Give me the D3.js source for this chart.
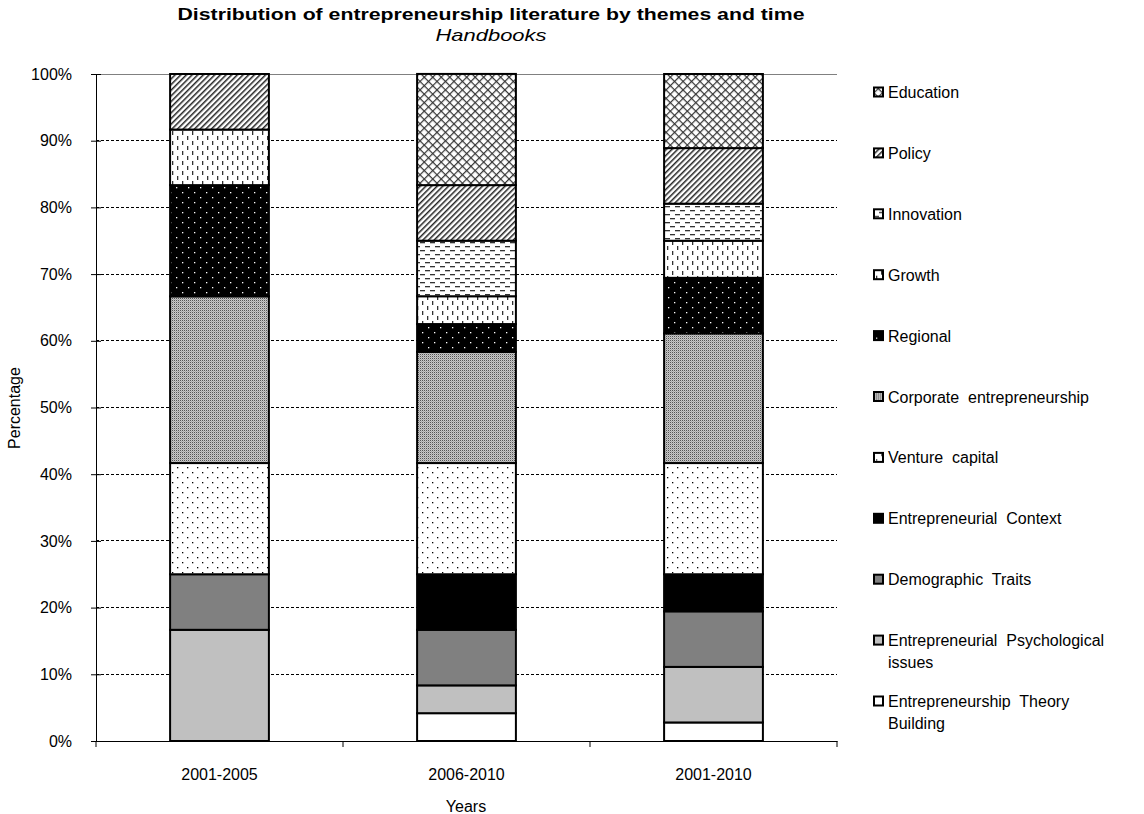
<!DOCTYPE html>
<html>
<head>
<meta charset="utf-8">
<script src="https://cdn.jsdelivr.net/npm/d3@7"></script>
<style>
  body { margin: 0; background: #fff; }
  text { font-family: "Liberation Sans", Arial, sans-serif; fill: #000; }
</style>
</head>
<body>
<svg id="chart" width="1144" height="814"></svg>
<script>
// Periods on the x axis
var periods = ["2001-2005", "2006-2010", "2001-2010"];
// Themes, bottom of the stack first
var themes = ["Entrepreneurship Theory Building", "Entrepreneurial Psychological issues",
	"Demographic Traits", "Entrepreneurial Context", "Venture capital",
	"Corporate entrepreneurship", "Regional", "Growth", "Innovation", "Policy", "Education"];
// Share of each theme (%), one value per period
var theoryBuilding = [0, 4.17, 2.78];
var psychological = [16.67, 4.17, 8.33];
var demographic = [8.33, 8.33, 8.33];
var context = [0, 8.33, 5.56];
var ventureCapital = [16.67, 16.67, 16.67];
var corporate = [25, 16.67, 19.44];
var regional = [16.67, 4.17, 8.33];
var growth = [8.33, 4.17, 5.56];
var innovation = [0, 8.33, 5.56];
var policy = [8.33, 8.33, 8.33];
var education = [0, 16.67, 11.11];
var yTicks = [0, 10, 20, 30, 40, 50, 60, 70, 80, 90, 100];

var seriesValues = [theoryBuilding, psychological, demographic, context, ventureCapital,
	corporate, regional, growth, innovation, policy, education];

// fill used for each theme
var fills = ["#ffffff", "#c0c0c0", "#808080", "#000000", "url(#pVenture)",
	"url(#pCorporate)", "url(#pRegional)", "url(#pGrowth)", "url(#pInnovation)",
	"url(#pPolicy)", "url(#pEducation)"];

const svg = d3.select("#chart");
const margin = {left: 96, right: 307, top: 74, bottom: 73};
const W = 1144, H = 814;

function makePatterns() {
	let defs = svg.append("defs");
	// Venture capital: sparse black dots on white
	let p = defs.append("pattern").attr("id", "pVenture").attr("patternUnits", "userSpaceOnUse")
		.attr("width", 10).attr("height", 10);
	p.append("rect").attr("width", 10).attr("height", 10).attr("fill", "#fff");
	p.append("rect").attr("x", 2).attr("y", 2).attr("width", 1.3).attr("height", 1.3).attr("fill", "#000");
	p.append("rect").attr("x", 7).attr("y", 7).attr("width", 1.3).attr("height", 1.3).attr("fill", "#000");

	// Corporate: fine grey dots
	p = defs.append("pattern").attr("id", "pCorporate").attr("patternUnits", "userSpaceOnUse")
		.attr("width", 2).attr("height", 2);
	p.append("rect").attr("width", 2).attr("height", 2).attr("fill", "#c8c8c8");
	p.append("rect").attr("width", 1).attr("height", 1).attr("fill", "#555");
	p.append("rect").attr("x", 1).attr("y", 1).attr("width", 1).attr("height", 1).attr("fill", "#a8a8a8");

	// Regional: white dots on black
	p = defs.append("pattern").attr("id", "pRegional").attr("patternUnits", "userSpaceOnUse")
		.attr("width", 12).attr("height", 10);
	p.append("rect").attr("width", 12).attr("height", 10).attr("fill", "#000");
	p.append("rect").attr("x", 2).attr("y", 2).attr("width", 1.3).attr("height", 1.3).attr("fill", "#fff");
	p.append("rect").attr("x", 8).attr("y", 7).attr("width", 1.3).attr("height", 1.3).attr("fill", "#fff");

	// Growth: short vertical dashes
	p = defs.append("pattern").attr("id", "pGrowth").attr("patternUnits", "userSpaceOnUse")
		.attr("width", 10).attr("height", 10);
	p.append("rect").attr("width", 10).attr("height", 10).attr("fill", "#fff");
	p.append("rect").attr("x", 2).attr("y", 1).attr("width", 1.3).attr("height", 4).attr("fill", "#333");
	p.append("rect").attr("x", 7).attr("y", 6).attr("width", 1.3).attr("height", 4).attr("fill", "#333");

	// Innovation: short horizontal dashes
	p = defs.append("pattern").attr("id", "pInnovation").attr("patternUnits", "userSpaceOnUse")
		.attr("width", 10).attr("height", 8);
	p.append("rect").attr("width", 10).attr("height", 8).attr("fill", "#fff");
	p.append("rect").attr("x", 0).attr("y", 2).attr("width", 5).attr("height", 1.3).attr("fill", "#333");
	p.append("rect").attr("x", 5).attr("y", 6).attr("width", 5).attr("height", 1.3).attr("fill", "#333");

	// Policy: dense diagonal hatch
	p = defs.append("pattern").attr("id", "pPolicy").attr("patternUnits", "userSpaceOnUse")
		.attr("width", 4).attr("height", 4).attr("patternTransform", "rotate(45)");
	p.append("rect").attr("width", 4).attr("height", 4).attr("fill", "#fff");
	p.append("rect").attr("width", 1.5).attr("height", 4).attr("fill", "#222");

	// Education: diagonal crosshatch
	p = defs.append("pattern").attr("id", "pEducation").attr("patternUnits", "userSpaceOnUse")
		.attr("width", 6).attr("height", 6).attr("patternTransform", "rotate(45)");
	p.append("rect").attr("width", 6).attr("height", 6).attr("fill", "#fff");
	p.append("rect").attr("width", 1.2).attr("height", 6).attr("fill", "#333");
	p.append("rect").attr("width", 6).attr("height", 1.2).attr("fill", "#333");
}

function drawChart() {
	makePatterns();

	const x = d3.scaleBand().domain(periods).range([margin.left, W - margin.right])
		.paddingInner(0.6).paddingOuter(0.3);
	const xGroup = d3.scaleBand().domain(periods).range([margin.left, W - margin.right]);
	const y = d3.scaleLinear().domain([0, 100]).range([H - margin.bottom, margin.top]);

	// rows for the stack
	let rows = periods.map((p, i) => {
		let r = {period: p};
		themes.forEach((t, k) => r[t] = seriesValues[k][i]);
		return r;
	});
	let stacked = d3.stack().keys(themes)(rows);

	// Gridlines
	svg.append("g").selectAll("line")
		.data(yTicks.slice(1))
		.join("line")
		.attr("x1", margin.left).attr("x2", W - margin.right)
		.attr("y1", d => y(d)).attr("y2", d => y(d))
		.attr("stroke-width", 1)
		.attr("stroke-dasharray", d => d == 100 ? null : "3,2")
		.attr("stroke", d => d == 100 ? "#808080" : "#000")
		.attr("shape-rendering", "crispEdges");

	// Bars
	let layers = svg.append("g").selectAll("g.layer")
		.data(stacked)
		.join("g")
		.classed("layer", true)
		.attr("fill", (d, i) => fills[i]);
	layers.selectAll("rect")
		.data(d => d.filter(s => s[1] - s[0] > 0))
		.join("rect")
		.attr("x", d => x(d.data.period))
		.attr("width", x.bandwidth())
		.attr("y", d => y(d[1]))
		.attr("height", d => y(d[0]) - y(d[1]))
		.attr("stroke", "#000").attr("stroke-width", 2);

	// Y axis
	let yAxis = svg.append("g")
		.attr("transform", `translate(${margin.left},0)`)
		.call(d3.axisLeft(y).tickValues(yTicks).tickFormat(d => d + "%").tickSize(5));
	yAxis.select(".domain").attr("stroke", "#000");
	yAxis.selectAll(".tick line").attr("x1", 5).attr("x2", -5).attr("stroke", "#000");
	yAxis.selectAll(".tick text").attr("x", -24).attr("font-size", 16)
		.attr("font-family", "Liberation Sans, Arial, sans-serif").attr("fill", "#000");

	// X axis
	let xAxis = svg.append("g")
		.attr("transform", `translate(0,${H - margin.bottom})`)
		.call(d3.axisBottom(xGroup).tickSize(0).tickPadding(28));
	xAxis.select(".domain").attr("stroke", "#000");
	xAxis.selectAll(".tick text").attr("font-size", 16)
		.attr("font-family", "Liberation Sans, Arial, sans-serif").attr("fill", "#000");
	// category separators
	let seps = periods.map(p => xGroup(p)).concat([W - margin.right]);
	xAxis.selectAll("line.sep").data(seps).join("line").classed("sep", true)
		.attr("x1", d => d).attr("x2", d => d).attr("y1", 0).attr("y2", 6)
		.attr("stroke", "#000");

	// Titles
	svg.append("text").attr("x", 491).attr("y", 20).attr("text-anchor", "middle")
		.attr("font-size", 17).attr("font-weight", "bold")
		.attr("textLength", 627).attr("lengthAdjust", "spacingAndGlyphs")
		.text("Distribution of entrepreneurship literature by themes and time");
	svg.append("text").attr("x", 491).attr("y", 41).attr("text-anchor", "middle")
		.attr("font-size", 17).attr("font-style", "italic")
		.attr("textLength", 111).attr("lengthAdjust", "spacingAndGlyphs")
		.text("Handbooks");
	svg.append("text").attr("transform", "translate(20,408) rotate(-90)")
		.attr("text-anchor", "middle").attr("font-size", 16).text("Percentage");
	svg.append("text").attr("x", 466).attr("y", 812).attr("text-anchor", "middle")
		.attr("font-size", 16).text("Years");

	// Legend, top item is the last theme
	const legendThemes = themes.slice().reverse();
	const lg = svg.append("g").selectAll("g")
		.data(legendThemes)
		.join("g")
		.attr("transform", (d, i) => `translate(874,${92 + i * 60.9})`);
	lg.append("rect")
		.attr("x", 0).attr("y", -4.5).attr("width", 9).attr("height", 9)
		.attr("fill", d => fills[themes.indexOf(d)])
		.attr("stroke", "#000").attr("stroke-width", 2);
	let legendLines = {
		"Entrepreneurial Psychological issues": ["Entrepreneurial  Psychological", "issues"],
		"Entrepreneurship Theory Building": ["Entrepreneurship  Theory", "Building"],
		"Entrepreneurial Context": ["Entrepreneurial  Context"],
		"Demographic Traits": ["Demographic  Traits"],
		"Corporate entrepreneurship": ["Corporate  entrepreneurship"],
		"Venture capital": ["Venture  capital"]
	};
	lg.append("text")
		.attr("x", 14).attr("y", 6).attr("font-size", 16)
		.attr("xml:space", "preserve")
		.style("white-space", "pre")
		.selectAll("tspan")
		.data(d => legendLines[d] || [d])
		.join("tspan")
		.attr("x", 14)
		.attr("dy", (d, i) => i ? 22 : 0)
		.text(d => d);
}

drawChart();
</script>
</body>
</html>
